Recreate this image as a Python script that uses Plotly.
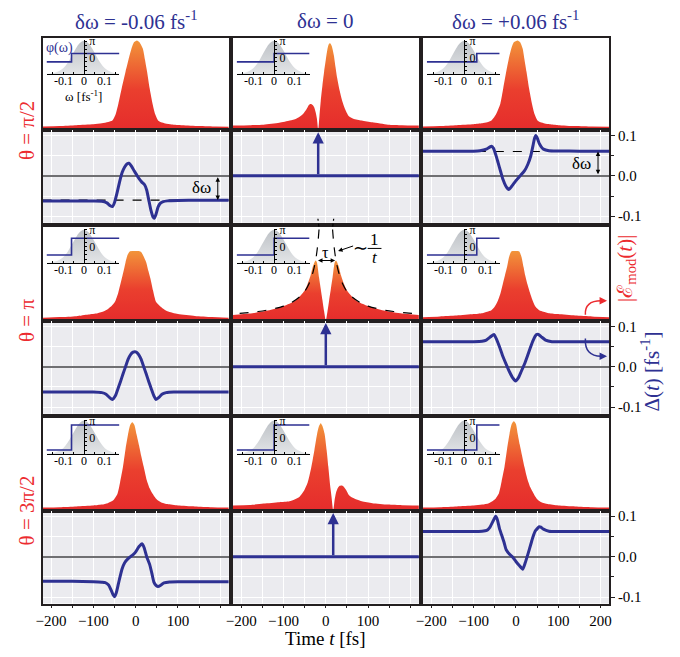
import plotly.graph_objects as go

# page body has an 8 px default margin: figure is sized to fit the 680x657 window
OFF = 8
W, H = 680 - OFF, 657 - OFF
FONT = "Liberation Serif, Times New Roman, serif"
BLUE = "#2e3192"
RED = "#ec2b2f"
FRAME = "#231f20"

# ------------------------------------------------------------------ data
col_titles = ["δω = -0.06 fs<sup>-1</sup>", "δω = 0", "δω = +0.06 fs<sup>-1</sup>"]
row_titles = ["θ = π/2", "θ = π", "θ = 3π/2"]
dw_step = [-0.06, 0.0, 0.06]          # position of the phase step [fs^-1]
theta_half = [0.25, 0.5, 0.75]        # half phase step [units of π]

spec_w = [-0.18, -0.16, -0.14, -0.12, -0.10, -0.08, -0.06, -0.04, -0.02, 0.0,
          0.02, 0.04, 0.06, 0.08, 0.10, 0.12, 0.14, 0.16, 0.17]
spec_a = [0.01, 0.025, 0.05, 0.10, 0.18, 0.33, 0.54, 0.76, 0.93, 1.0,
          0.93, 0.76, 0.54, 0.33, 0.18, 0.10, 0.05, 0.025, 0.015]
inset_ticks = [-0.1, 0.0, 0.1]
inset_ticktext = ["-0.1", "0", "0.1"]

# |E_mod(t)| (normalised) -- row r (theta), column c (delta omega)
tI11 = [-220, -180, -140, -100, -80, -65, -55, -48, -41, -33, -24, -17, -10, -4, 3, 9, 17, 22, 27, 33, 40, 46, 53, 60, 70, 85, 110, 150, 190, 220]
vI11 = [0.035, 0.04, 0.05, 0.06, 0.07, 0.085, 0.10, 0.16, 0.28, 0.45, 0.63, 0.76, 0.88, 0.95, 0.97, 0.95, 0.88, 0.76, 0.63, 0.45, 0.28, 0.17, 0.10, 0.08, 0.068, 0.058, 0.05, 0.04, 0.035, 0.033]
tI12 = [-220, -180, -147, -110, -85, -70, -62, -54, -46, -40, -36, -31, -27, -24, -21, -18, -15, -12, -8, -4, 0, 4, 7, 10, 14, 19, 23, 27, 33, 39, 46, 54, 65, 85, 110, 147, 180, 220]
vI12 = [0.045, 0.05, 0.055, 0.075, 0.10, 0.12, 0.14, 0.17, 0.22, 0.27, 0.28, 0.27, 0.24, 0.19, 0.12, 0.0, 0.15, 0.31, 0.48, 0.63, 0.76, 0.88, 0.93, 0.94, 0.91, 0.81, 0.68, 0.56, 0.42, 0.31, 0.22, 0.15, 0.12, 0.10, 0.08, 0.055, 0.05, 0.045]
tI13 = [-220, -180, -140, -100, -80, -68, -58, -48, -37, -30, -23, -17, -11, -5, 4, 10, 16, 20, 25, 31, 38, 44, 51, 58, 68, 80, 100, 140, 180, 220]
vI13 = [0.035, 0.04, 0.05, 0.06, 0.07, 0.08, 0.10, 0.16, 0.28, 0.45, 0.63, 0.77, 0.88, 0.95, 0.97, 0.95, 0.88, 0.77, 0.63, 0.45, 0.28, 0.17, 0.10, 0.08, 0.068, 0.06, 0.05, 0.04, 0.035, 0.033]
tI21 = [-220, -180, -140, -112, -90, -75, -64, -56, -49, -41, -33, -28, -24, -19, -14, -8, 0, 7, 13, 18, 25, 30, 35, 41, 48, 56, 64, 75, 100, 140, 180, 220]
vI21 = [0.03, 0.038, 0.048, 0.066, 0.08, 0.10, 0.13, 0.16, 0.20, 0.30, 0.445, 0.54, 0.62, 0.70, 0.735, 0.74, 0.74, 0.74, 0.73, 0.69, 0.62, 0.53, 0.445, 0.32, 0.20, 0.16, 0.13, 0.10, 0.07, 0.05, 0.038, 0.03]
tI22 = [-220, -180, -140, -110, -86, -70, -59, -50, -43, -36, -31, -27, -24, -21, -16, -12, -8, -4, 0, 4, 8, 12, 16, 21, 24, 27, 31, 36, 43, 50, 59, 70, 86, 110, 140, 180, 220]
vI22 = [0.06, 0.075, 0.105, 0.14, 0.18, 0.22, 0.27, 0.32, 0.39, 0.48, 0.57, 0.62, 0.64, 0.62, 0.46, 0.34, 0.22, 0.10, 0.0, 0.10, 0.22, 0.34, 0.46, 0.62, 0.64, 0.62, 0.57, 0.48, 0.39, 0.32, 0.27, 0.22, 0.18, 0.14, 0.105, 0.075, 0.06]
tI23 = [-220, -180, -140, -100, -80, -68, -58, -50, -42, -36, -31, -26, -21, -16, -11, -5, 0, 4, 8, 13, 18, 22, 27, 33, 39, 46, 55, 65, 78, 100, 140, 180, 220]
vI23 = [0.035, 0.045, 0.055, 0.07, 0.08, 0.095, 0.11, 0.15, 0.22, 0.30, 0.39, 0.48, 0.57, 0.68, 0.735, 0.74, 0.74, 0.74, 0.735, 0.68, 0.57, 0.48, 0.39, 0.30, 0.22, 0.15, 0.11, 0.095, 0.08, 0.07, 0.055, 0.045, 0.035]
tI31 = [-220, -180, -140, -100, -80, -66, -53, -48, -43, -37, -30, -24, -18, -13, -8, -3, 2, 8, 13, 19, 26, 33, 40, 46, 52, 62, 75, 100, 140, 180, 220]
vI31 = [0.033, 0.037, 0.045, 0.055, 0.065, 0.08, 0.11, 0.14, 0.18, 0.30, 0.47, 0.66, 0.82, 0.92, 0.95, 0.92, 0.82, 0.70, 0.59, 0.47, 0.33, 0.24, 0.18, 0.14, 0.11, 0.085, 0.07, 0.055, 0.045, 0.037, 0.033]
tI32 = [-220, -180, -147, -110, -86, -74, -62, -52, -43, -35, -27, -20, -16, -12, -8, -3, 2, 6, 10, 13.5, 17.5, 21, 24, 28, 32, 37, 42, 48, 54, 62, 85, 110, 147, 180, 220]
vI32 = [0.055, 0.06, 0.075, 0.09, 0.10, 0.12, 0.15, 0.21, 0.30, 0.45, 0.65, 0.84, 0.91, 0.94, 0.91, 0.83, 0.65, 0.47, 0.28, 0.15, 0.0, 0.12, 0.19, 0.24, 0.265, 0.27, 0.26, 0.22, 0.17, 0.14, 0.10, 0.08, 0.065, 0.058, 0.055]
tI33 = [-220, -180, -140, -100, -80, -64, -50, -45, -40, -34, -27, -21, -15, -10, -5, 0, 4, 9, 14, 20, 27, 34, 41, 46, 51, 60, 75, 100, 140, 180, 220]
vI33 = [0.033, 0.037, 0.045, 0.055, 0.065, 0.08, 0.12, 0.15, 0.19, 0.31, 0.47, 0.66, 0.83, 0.93, 0.96, 0.93, 0.83, 0.71, 0.60, 0.47, 0.34, 0.25, 0.19, 0.15, 0.12, 0.09, 0.07, 0.055, 0.045, 0.037, 0.033]

# ~1/t envelope (dashed), theta = pi, delta omega = 0
t_inv_pos = [16, 18, 20, 24, 30, 40, 50, 60, 80, 100, 130, 160, 190, 220]
t_inv_neg = [-16, -18, -20, -24, -30, -40, -50, -60, -80, -100, -130, -160, -190, -220]
v_inv = [0.97, 0.86, 0.77, 0.645, 0.52, 0.39, 0.31, 0.26, 0.195, 0.155, 0.12, 0.097, 0.082, 0.071]

# Delta(t) [fs^-1]
tD11 = [-220, -150, -100, -80, -68, -60, -55, -50, -44, -38, -32, -26, -20, -16, -10, -4, 2, 8, 14, 21, 26, 31, 36, 41, 44, 48, 53, 58, 65, 75, 100, 150, 220]
vD11 = [-0.0625, -0.0625, -0.0625, -0.063, -0.067, -0.074, -0.076, -0.066, -0.042, -0.015, 0.008, 0.022, 0.030, 0.031, 0.024, 0.013, 0.003, -0.007, -0.015, -0.022, -0.035, -0.06, -0.085, -0.102, -0.105, -0.095, -0.077, -0.068, -0.064, -0.062, -0.061, -0.0605, -0.0605]
tD13 = [-220, -150, -100, -85, -70, -62, -58, -53, -47, -42, -36, -31, -24, -17, -10, 0, 10, 20, 28, 35, 41, 44, 47, 51, 55, 59, 65, 78, 100, 150, 220]
vD13 = [0.0605, 0.0605, 0.061, 0.062, 0.066, 0.071, 0.073, 0.068, 0.05, 0.032, 0.01, -0.008, -0.025, -0.034, -0.026, -0.012, 0.0, 0.012, 0.028, 0.049, 0.078, 0.093, 0.10, 0.092, 0.08, 0.073, 0.066, 0.062, 0.0615, 0.061, 0.0605]
tD21 = [-220, -150, -100, -80, -70, -62, -55, -48, -42, -36, -30, -24, -18, -12, -6, -2, 2, 7, 13, 19, 25, 31, 37, 43, 48, 55, 62, 72, 90, 150, 220]
vD21 = [-0.0625, -0.0625, -0.0625, -0.064, -0.068, -0.076, -0.081, -0.072, -0.055, -0.037, -0.018, 0.0, 0.018, 0.030, 0.036, 0.037, 0.036, 0.030, 0.018, 0.0, -0.018, -0.037, -0.055, -0.072, -0.081, -0.076, -0.068, -0.064, -0.0625, -0.0625, -0.0625]
tD23 = [-220, -150, -100, -80, -70, -60, -52, -45, -38, -31, -23, -15, -8, -1, 6, 12, 20, 27, 34, 41, 48, 53, 60, 70, 85, 150, 220]
vD23 = [0.062, 0.062, 0.062, 0.063, 0.066, 0.074, 0.08, 0.066, 0.047, 0.026, 0.006, -0.013, -0.027, -0.035, -0.027, -0.013, 0.006, 0.026, 0.047, 0.066, 0.079, 0.08, 0.074, 0.066, 0.062, 0.062, 0.062]
tD31 = [-220, -150, -100, -80, -72, -64, -57, -53, -50, -46, -41, -37, -32, -26, -18, -10, -6, 0, 8, 15, 20, 26, 33, 38, 43, 48, 53, 60, 67, 80, 100, 150, 220]
vD31 = [-0.061, -0.061, -0.062, -0.063, -0.064, -0.07, -0.085, -0.095, -0.099, -0.09, -0.068, -0.05, -0.03, -0.015, -0.005, 0.002, 0.005, 0.012, 0.025, 0.032, 0.022, 0.0, -0.019, -0.04, -0.063, -0.071, -0.074, -0.07, -0.065, -0.0625, -0.062, -0.062, -0.062]
tD33 = [-220, -150, -100, -80, -69, -62, -55, -48, -44, -39, -34, -28, -23, -15, -7, 0, 8, 16, 22, 28, 35, 40, 46, 51, 55, 59, 65, 78, 100, 150, 220]
vD33 = [0.062, 0.062, 0.062, 0.063, 0.065, 0.072, 0.086, 0.10, 0.092, 0.07, 0.054, 0.035, 0.017, 0.006, -0.002, -0.012, -0.022, -0.031, -0.015, 0.005, 0.03, 0.048, 0.064, 0.07, 0.074, 0.073, 0.068, 0.063, 0.062, 0.062, 0.062]
tD_flat = [-220, 220]
vD_flat = [0.0, 0.0]
t_spike = [-18, 0, 17.5]        # delta-function spikes of Delta(t) for delta omega = 0

x_ticks = [[-200, -100, 0, 100], [-200, -100, 0, 100], [-200, -100, 0, 100, 200]]
y_ticks = [-0.1, 0.0, 0.1]
y_ticktext = ["-0.1", "0.0", "0.1"]

I_T = [[tI11, tI12, tI13], [tI21, tI22, tI23], [tI31, tI32, tI33]]
I_V = [[vI11, vI12, vI13], [vI21, vI22, vI23], [vI31, vI32, vI33]]
D_T = [[tD11, tD_flat, tD13], [tD21, tD_flat, tD23], [tD31, tD_flat, tD33]]
D_V = [[vD11, vD_flat, vD13], [vD21, vD_flat, vD23], [vD31, vD_flat, vD33]]

# ------------------------------------------------------------------ layout geometry (window pixels)
COL_PX = [(36, 225), (229, 418), (422, 611)]
ROW_I_PX = [(33, 126), (224, 319), (417, 511)]
ROW_D_PX = [(126, 220), (319, 413), (511, 605)]
TR = [-220, 220]
DR = [-0.116, 0.114]
IW = [-0.18, 0.17]


def PX(p):
    return (p - OFF) / W


def PY(p):
    return 1 - (p - OFF) / H


layout = dict(width=W, height=H, autosize=False, margin=dict(l=0, r=0, t=0, b=0, pad=0),
              paper_bgcolor="white", plot_bgcolor="rgba(0,0,0,0)", showlegend=False,
              font=dict(family=FONT, size=14, color="black"))
traces, shapes, annotations = [], [], []
cnt = {"x": 0, "y": 0}


def new_axis(kind, spec):
    cnt[kind] += 1
    n = cnt[kind]
    name = kind if n == 1 else f"{kind}{n}"
    layout[(kind + "axis") if n == 1 else f"{kind}axis{n}"] = spec
    return name


def text(px, py, s, size, color="black", angle=0):
    annotations.append(dict(x=PX(px), y=PY(py), xref="paper", yref="paper", text=s,
                            xanchor="center", yanchor="middle", textangle=angle, showarrow=False,
                            font=dict(family=FONT, size=size, color=color)))


frame = dict(showline=True, mirror=True, linecolor=FRAME, linewidth=1.7, zeroline=False,
             showgrid=False, ticks="", showticklabels=False, fixedrange=True)
GRAD = [[0, "#e52c2c"], [0.45, "#ea3f2e"], [1, "#f2943a"]]

for r in range(3):
    for c in range(3):
        L, R = COL_PX[c]
        it, ib = ROW_I_PX[r]
        dt, db = ROW_D_PX[r]
        xd = [PX(L), PX(R)]

        # ---------------- intensity panel
        xa_spec = dict(frame, domain=xd, range=TR)
        ya_spec = dict(frame, domain=[PY(ib), PY(it)], range=[0, 1])
        xa = new_axis("x", xa_spec)
        ya = new_axis("y", ya_spec)
        xa_spec["anchor"] = ya
        ya_spec["anchor"] = xa
        traces.append(go.Scatter(x=I_T[r][c], y=I_V[r][c], xaxis=xa, yaxis=ya, mode="lines",
                                 line=dict(width=0, shape="spline", smoothing=0.6, color=RED),
                                 fill="tozeroy", fillgradient=dict(type="vertical", colorscale=GRAD),
                                 hoverinfo="skip"))
        if r == 1 and c == 1:
            for tt in (t_inv_neg, t_inv_pos):
                traces.append(go.Scatter(x=tt, y=v_inv, xaxis=xa, yaxis=ya, mode="lines",
                                         line=dict(color="black", width=1.2, dash="dash", shape="spline"),
                                         hoverinfo="skip"))
            # continuation of the dashed envelope above the panel frame
            for x0p, x1p in ((316.5, 315.5), (330.5, 331.5)):
                shapes.append(dict(type="line", xref="paper", yref="paper", x0=PX(x0p), x1=PX(x1p),
                                   y0=PY(224), y1=PY(216),
                                   line=dict(color="black", width=1.2, dash="3px,3px")))
            annotations.append(dict(x=22, y=0.64, ax=-22, ay=0.64, xref=xa, yref=ya, axref=xa, ayref=ya,
                                    text="", showarrow=True, arrowhead=2, arrowside="end+start",
                                    arrowsize=0.9, arrowwidth=1, arrowcolor="black"))
            annotations.append(dict(x=0, y=0.72, xref=xa, yref=ya, text="τ", showarrow=False,
                                    xanchor="center", yanchor="middle",
                                    font=dict(family=FONT, size=16, color="black")))
            annotations.append(dict(x=29, y=0.74, ax=68, ay=0.80, xref=xa, yref=ya, axref=xa, ayref=ya,
                                    text="", showarrow=True, arrowhead=2, arrowsize=0.9, arrowwidth=1,
                                    arrowcolor="black"))
            text(359, 246, "∼", 18)
            text(373, 237, "1", 17)
            text(373, 255, "<i>t</i>", 17)
            shapes.append(dict(type="line", xref="paper", yref="paper", x0=PX(366), x1=PX(380),
                               y0=PY(246), y1=PY(246), line=dict(color="black", width=1)))

        # ---------------- Delta panel
        xb_spec = dict(frame, domain=xd, range=TR, showgrid=True, gridcolor="white", gridwidth=1,
                       tickmode="array", tickvals=x_ticks[c],
                       minor=dict(tickmode="linear", tick0=0, dtick=50, showgrid=True,
                                  gridcolor="white", gridwidth=1))
        yb_spec = dict(frame, domain=[PY(db), PY(dt)], range=DR, showgrid=True, gridcolor="white",
                       gridwidth=1, tickmode="array", tickvals=y_ticks, ticktext=y_ticktext,
                       zeroline=True, zerolinecolor="#6f6f72", zerolinewidth=1.5,
                       minor=dict(tickmode="linear", tick0=0, dtick=0.05, showgrid=True,
                                  gridcolor="white", gridwidth=1))
        if r == 2:
            xb_spec.update(ticks="outside", ticklen=3, tickcolor=FRAME, showticklabels=True,
                           tickfont=dict(family=FONT, size=15))
            xb_spec["minor"].update(ticks="outside", ticklen=3, tickcolor=FRAME)
        if c == 2:
            yb_spec.update(side="right", ticks="outside", ticklen=4, tickcolor=FRAME,
                           showticklabels=True, tickfont=dict(family=FONT, size=15))
            yb_spec["minor"].update(ticks="outside", ticklen=3, tickcolor=FRAME)
        xb = new_axis("x", xb_spec)
        yb = new_axis("y", yb_spec)
        xb_spec["anchor"] = yb
        yb_spec["anchor"] = xb
        shapes.append(dict(type="rect", xref=f"{xb} domain", yref=f"{yb} domain", x0=0, x1=1, y0=0, y1=1,
                           fillcolor="#ebebef", line=dict(width=0), layer="below"))
        if r == 0 and c != 1:
            traces.append(go.Scatter(x=TR, y=[dw_step[c], dw_step[c]], xaxis=xb, yaxis=yb, mode="lines",
                                     line=dict(color="black", width=1.1, dash="dash"), hoverinfo="skip"))
        traces.append(go.Scatter(x=D_T[r][c], y=D_V[r][c], xaxis=xb, yaxis=yb, mode="lines",
                                 line=dict(color=BLUE, width=3, shape="spline", smoothing=0.5),
                                 hoverinfo="skip"))
        if c == 1:
            annotations.append(dict(x=t_spike[r], y=0.108, ax=t_spike[r], ay=0.0, xref=xb, yref=yb,
                                    axref=xb, ayref=yb, text="", showarrow=True, arrowhead=2,
                                    arrowsize=0.9, arrowwidth=2.5, arrowcolor=BLUE))
        if r == 0 and c != 1:
            annotations.append(dict(x=194, y=dw_step[c], ax=194, ay=0.0, xref=xb, yref=yb, axref=xb,
                                    ayref=yb, text="", showarrow=True, arrowhead=2,
                                    arrowside="end+start", arrowsize=0.9, arrowwidth=1,
                                    arrowcolor="black"))
            annotations.append(dict(x=156, y=dw_step[c] / 2, xref=xb, yref=yb, text="δω",
                                    showarrow=False, xanchor="center", yanchor="middle",
                                    font=dict(family=FONT, size=17, color="black")))

        # ---------------- inset: spectrum and spectral phase
        ixl, ixr = L + 4, L + 78
        iyt, iyb = it + 2, it + 37
        xi_spec = dict(domain=[PX(ixl), PX(ixr)], range=IW, showline=True, linecolor="black",
                       linewidth=1, ticks="inside", ticklen=2, tickcolor="black", tickmode="array",
                       tickvals=inset_ticks, showticklabels=False, showgrid=False, zeroline=False,
                       fixedrange=True,
                       minor=dict(tickmode="linear", tick0=0, dtick=0.05, ticks="inside", ticklen=2,
                                  tickcolor="black"))
        yg_spec = dict(domain=[PY(iyb), PY(iyt)], range=[0, 1.03], visible=False, fixedrange=True)
        xi = new_axis("x", xi_spec)
        yg = new_axis("y", yg_spec)
        xi_spec["anchor"] = yg
        yg_spec["anchor"] = xi
        zero_px = ixl + (ixr - ixl) * (0 - IW[0]) / (IW[1] - IW[0])
        yp_spec = dict(overlaying=yg, anchor="free", position=PX(zero_px), side="right",
                       range=[-1, 1.08], showline=True, linecolor="black", linewidth=0.8,
                       ticks="outside", ticklen=2, tickcolor="black", tickmode="array",
                       tickvals=[0, 1], ticktext=["0", "π"], tickfont=dict(family=FONT, size=12),
                       showgrid=False, zeroline=False, fixedrange=True,
                       minor=dict(tickmode="linear", tick0=0, dtick=0.25, ticks="outside",
                                  ticklen=2, tickcolor="black"))
        yp = new_axis("y", yp_spec)
        traces.append(go.Scatter(x=spec_w, y=spec_a, xaxis=xi, yaxis=yg, mode="lines",
                                 line=dict(width=0, shape="spline"), fill="tozeroy",
                                 fillgradient=dict(type="vertical",
                                                   colorscale=[[0, "#e3e5e7"], [1, "#bdc1c6"]]),
                                 hoverinfo="skip"))
        h = theta_half[r]
        traces.append(go.Scatter(x=[IW[0], dw_step[c], dw_step[c], IW[1]], y=[-h, -h, h, h],
                                 xaxis=xi, yaxis=yp, mode="lines",
                                 line=dict(color=BLUE, width=1.6), hoverinfo="skip"))
        for tv, tt in zip(inset_ticks, inset_ticktext):
            annotations.append(dict(x=tv, y=PY(iyb + 7), xref=xi, yref="paper", text=tt,
                                    showarrow=False, xanchor="center", yanchor="middle",
                                    font=dict(family=FONT, size=12, color="black")))

# ------------------------------------------------------------------ text
for c in range(3):
    text((COL_PX[c][0] + COL_PX[c][1]) / 2, 16, col_titles[c], 21, BLUE)
for r in range(3):
    text(20, (ROW_I_PX[r][0] + ROW_D_PX[r][1]) / 2, row_titles[r], 21, RED, -90)
text(323, 640, "Time <i>t</i> [fs]", 19)
text(53, 43, "φ(ω)", 14, BLUE)
text(78, 92, "ω [fs<sup>-1</sup>]", 13)
text(628, 266, "|ℰ<sub>mod</sub>(<i>t</i>)|", 21, RED, -90)
text(653, 370, "Δ(<i>t</i>) [fs<sup>-1</sup>]", 21, BLUE, -90)

# curved pointers to the two right-hand labels
shapes.append(dict(type="path", xref="paper", yref="paper",
                   path=f"M {PX(587)},{PY(313)} Q {PX(586)},{PY(299)} {PX(603)},{PY(299)}",
                   line=dict(color=RED, width=1.5)))
annotations.append(dict(x=PX(609), y=PY(299), ax=-7, ay=0, xref="paper", yref="paper", text="",
                        showarrow=True, arrowhead=2, arrowsize=1, arrowwidth=1.5, arrowcolor=RED))
shapes.append(dict(type="path", xref="paper", yref="paper",
                   path=f"M {PX(587)},{PY(337)} Q {PX(586)},{PY(355)} {PX(603)},{PY(355)}",
                   line=dict(color=BLUE, width=1.5)))
annotations.append(dict(x=PX(609), y=PY(355), ax=-7, ay=0, xref="paper", yref="paper", text="",
                        showarrow=True, arrowhead=2, arrowsize=1, arrowwidth=1.5, arrowcolor=BLUE))

layout["shapes"] = shapes
layout["annotations"] = annotations
fig = go.Figure(data=traces, layout=layout)
fig.write_html("out.html")
